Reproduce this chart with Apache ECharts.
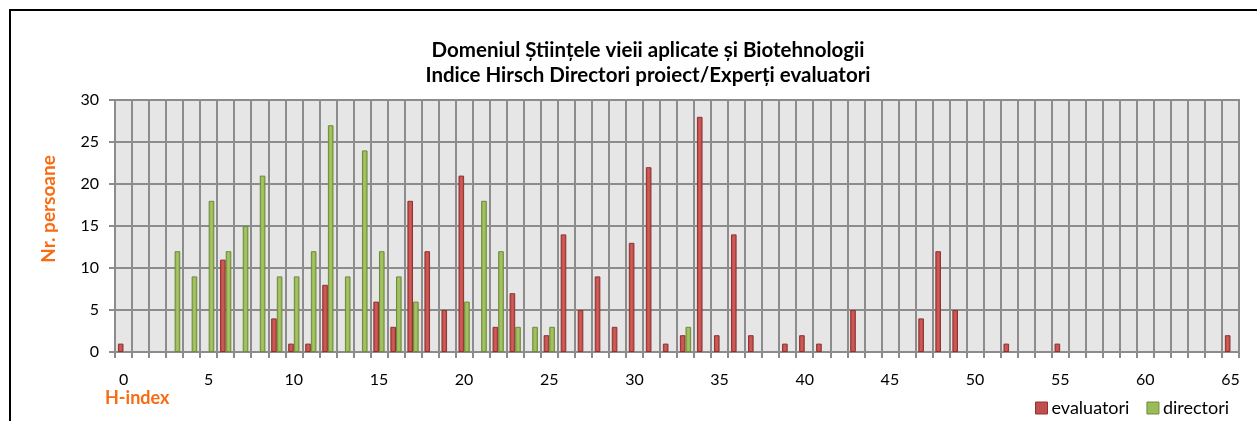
<!DOCTYPE html>
<html>
<head>
<meta charset="utf-8">
<title>Indice Hirsch</title>
<script src="https://cdn.jsdelivr.net/npm/echarts@6/dist/echarts.min.js"></script>
<style>
  html, body { margin: 0; padding: 0; background: #fff; }
  #chart { width: 1257px; height: 421px; }
</style>
</head>
<body>
<div id="chart"></div>
<script>
// H-index 0..65
const hIndex = []
for (let i = 0; i <= 65; i++) hIndex.push(String(i))

// evaluatori, pe fiecare valoare H (null = 0, nu se deseneaza)
const evaluatori = [
  1, null, null, null, null, null, 11, null, null, 4,
  1, 1, 8, null, null, 6, 3, 18, 12, 5,
  21, null, 3, 7, null, 2, 14, 5, 9, 3,
  13, 22, 1, 2, 28, 2, 14, 2, null, 1,
  2, 1, null, 5, null, null, null, 4, 12, 5,
  null, null, 1, null, null, 1, null, null, null, null,
  null, null, null, null, null, 2
]

// directori proiect
const directori = [
  null, null, null, 12, 9, 18, 12, 15, 21, 9,
  9, 12, 27, 9, 24, 12, 9, 6, null, null,
  6, 18, 12, 3, 3, 3, null, null, null, null,
  null, null, null, 3, null, null, null, null, null, null,
  null, null, null, null, null, null, null, null, null, null,
  null, null, null, null, null, null, null, null, null, null,
  null, null, null, null, null, null
]

const FONT = 'Lato'
const ORANGE = '#f96b12'
const GRID = '#8c8c8c'

function barFill(dark, mid) {
  return {
    type: 'linear', x: 0, y: 0, x2: 1, y2: 0,
    colorStops: [
      { offset: 0, color: dark },
      { offset: 0.5, color: mid },
      { offset: 1, color: dark }
    ]
  }
}

const chart = echarts.init(document.getElementById('chart'))

const option = {
  animation: false,
  textStyle: { fontFamily: FONT },
  title: {
    text: 'Domeniul Științele vieii aplicate și Biotehnologii\nIndice Hirsch Directori proiect/Experți evaluatori',
    left: 643,
    top: 33,
    textAlign: 'center',
    textStyle: {
      fontFamily: FONT,
      fontSize: 20.5,
      fontWeight: 'bold',
      color: '#000',
      lineHeight: 25
    }
  },
  legend: {
    left: 1030,
    top: 394,
    itemWidth: 12,
    itemHeight: 12,
    itemGap: 17,
    icon: 'rect',
    textStyle: { fontFamily: FONT, fontSize: 18, color: '#000', padding: [0, 0, 0, -1] },
    data: [
      { name: 'evaluatori', itemStyle: { color: '#c0504d', borderColor: '#8e3331', borderWidth: 1 } },
      { name: 'directori', itemStyle: { color: '#9bbb59', borderColor: '#6f8a3a', borderWidth: 1 } }
    ]
  },
  grid: {
    left: 115,
    right: 18,
    top: 100,
    bottom: 69,
    show: true,
    backgroundColor: '#e6e6e6',
    borderColor: GRID,
    borderWidth: 2
  },
  xAxis: {
    type: 'category',
    data: hIndex,
    boundaryGap: true,
    axisLine: { show: true, lineStyle: { color: GRID, width: 2 } },
    axisTick: { show: true, interval: 0, length: 6, lineStyle: { color: GRID, width: 2 } },
    axisLabel: { interval: 4, color: '#000', fontSize: 16, margin: 20, fontFamily: FONT },
    splitLine: { show: true, interval: 0, lineStyle: { color: GRID, width: 2 } }
  },
  yAxis: {
    type: 'value',
    min: 0,
    max: 30,
    interval: 5,
    axisLine: { show: true, lineStyle: { color: GRID, width: 2 } },
    axisTick: { show: true, length: 6, lineStyle: { color: GRID, width: 2 } },
    axisLabel: { color: '#000', fontSize: 16, margin: 16, fontFamily: FONT },
    splitLine: { show: true, lineStyle: { color: GRID, width: 2 } }
  },
  graphic: [
    {
      type: 'text',
      x: 49,
      y: 209,
      rotation: Math.PI / 2,
      style: {
        text: 'Nr. persoane',
        fill: ORANGE,
        font: 'bold 19px ' + FONT,
        align: 'center',
        verticalAlign: 'middle'
      }
    },
    {
      type: 'text',
      left: 105,
      top: 389,
      style: { text: 'H-index', fill: ORANGE, font: 'bold 18px ' + FONT }
    },
    {
      type: 'rect',
      shape: { x: 10, y: 10, width: 1260, height: 430 },
      style: { fill: null, stroke: '#000', lineWidth: 2 },
      silent: true,
      z: 100
    }
  ],
  series: [
    {
      name: 'evaluatori',
      type: 'bar',
      data: evaluatori,
      barGap: '0%',
      barCategoryGap: '34%',
      itemStyle: {
        color: barFill('#b8403d', '#cf5e5b'),
        borderColor: '#8e3331',
        borderWidth: 1
      }
    },
    {
      name: 'directori',
      type: 'bar',
      data: directori,
      itemStyle: {
        color: barFill('#8cac4a', '#a6c566'),
        borderColor: '#6f8a3a',
        borderWidth: 1
      }
    }
  ]
}

chart.setOption(option)
</script>
</body>
</html>
